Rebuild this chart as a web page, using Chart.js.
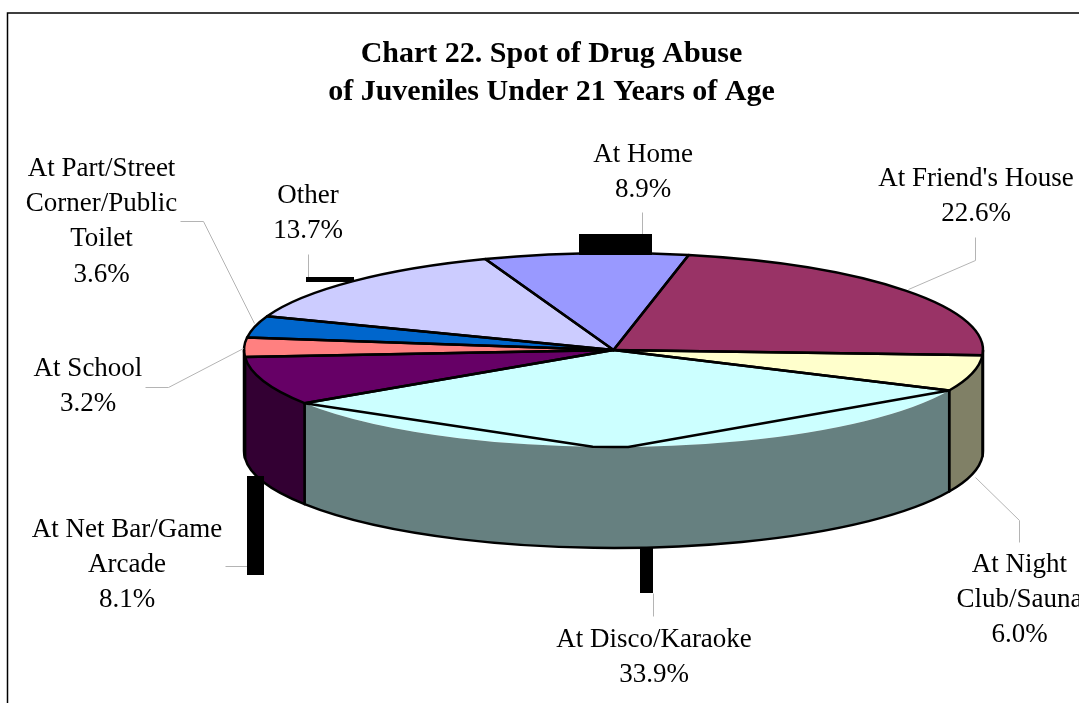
<!DOCTYPE html>
<html>
<head>
<meta charset="utf-8">
<title>Chart 22</title>
<style>
  html, body { margin: 0; padding: 0; background: #fff; overflow: hidden; }
  #wrap { width: 1079px; height: 703px; position: relative; }
</style>
<script src="https://cdn.jsdelivr.net/npm/chart.js@4"></script>
</head>
<body>
<div id="wrap"><canvas id="myChart" width="1079" height="703"></canvas></div>
<script>
const titleLines = ["Chart 22. Spot of Drug Abuse", "of Juveniles Under 21 Years of Age"];
const categories = ["At Home", "At Friend's House", "At Night Club/Sauna", "At Disco/Karaoke",
  "At Net Bar/Game Arcade", "At School", "At Part/Street Corner/Public Toilet", "Other"];
const shares = [8.9, 22.6, 6.0, 33.9, 8.1, 3.2, 3.6, 13.7];
const sliceColors = ["#9999FF", "#993366", "#FFFFCC", "#CCFFFF", "#660066", "#FF8080", "#0066CC", "#CCCCFF"];

// how the labels wrap, and where each block is centred (x, first baseline)
const labelLines = [["At Home"], ["At Friend's House"], ["At Night", "Club/Sauna"], ["At Disco/Karaoke"],
  ["At Net Bar/Game", "Arcade"], ["At School"], ["At Part/Street", "Corner/Public", "Toilet"], ["Other"]];
const labelPos = [[643, 162], [976, 186], [1019.5, 572], [654, 647], [127, 537], [88, 376], [101.5, 176], [308, 203]];
const labelFont = '27px "Liberation Serif"';
const labelLead = 35.2;

// leader lines, one polyline per slice
const leaders = [
  [[642, 212], [642, 234]],
  [[975, 237], [975, 260], [908, 289]],
  [[975, 477], [1019, 520], [1019, 542]],
  [[653, 593], [653, 616]],
  [[225, 566], [247, 566], [247, 476]],
  [[145, 387], [168, 387], [243, 348]],
  [[180, 221], [203, 221], [254, 323]],
  [[308, 254], [308, 277]],
];
// the stray black blocks sitting on the leaders in the original: x, y, w, h
const stubs = [[579, 234, 73, 21], [306, 277, 48, 5], [247, 476, 17, 99], [640, 548, 13, 45]];

// pie projection
const cx = 613.5, cy = 350, rx = 369.5, ry = 97, depth = 101;
const lineW = 2.5;
// the outline of the big front slice cuts across its arc in the original,
// these are the degrees past the slice middle where it touches the arc
const chordAngles = [2, 7.5];

function halfShade(hex) {
  const n = parseInt(hex.slice(1), 16);
  const c = [n >> 16, (n >> 8) & 255, n & 255].map(v => Math.round(v / 2));
  return "rgb(" + c.join(",") + ")";
}

function pt(a, dy) {
  return [cx + rx * Math.cos(a), cy + ry * Math.sin(a) + (dy || 0)];
}

const pie3d = {
  id: "pie3d",
  beforeDraw(chart) {
    const ctx = chart.ctx;
    ctx.save();
    ctx.strokeStyle = "#000";
    ctx.lineWidth = 1.5;
    ctx.beginPath();
    ctx.moveTo(7.5, 704);
    ctx.lineTo(7.5, 13);
    ctx.lineTo(1080, 13);
    ctx.stroke();
    ctx.restore();
  },
  beforeDatasetsDraw(chart) {
    const arc = chart.getDatasetMeta(0).data[0];
    const ctx = chart.ctx;
    ctx.save();
    ctx.translate(cx, cy);
    ctx.scale(rx / arc.outerRadius, ry / arc.outerRadius);
    ctx.translate(-arc.x, -arc.y);
  },
  afterDatasetsDraw(chart) {
    const ctx = chart.ctx;
    ctx.restore();
    const arcs = chart.getDatasetMeta(0).data;

    ctx.save();
    ctx.lineJoin = "round";
    ctx.strokeStyle = "#000";
    ctx.lineWidth = lineW;

    // side wall, front half of the ellipse only
    arcs.forEach((arc, i) => {
      const a0 = Math.max(arc.startAngle, 0), a1 = Math.min(arc.endAngle, Math.PI);
      if (a1 <= a0) return;
      ctx.beginPath();
      ctx.ellipse(cx, cy, rx, ry, 0, a0, a1);
      ctx.ellipse(cx, cy + depth, rx, ry, 0, a1, a0, true);
      ctx.closePath();
      ctx.fillStyle = halfShade(sliceColors[i]);
      ctx.fill();
      // bottom edge and the two verticals, no line along the top
      ctx.beginPath();
      const p0 = pt(a0), p1 = pt(a1);
      ctx.moveTo(p0[0], p0[1]);
      ctx.ellipse(cx, cy + depth, rx, ry, 0, a0, a1);
      ctx.lineTo(p1[0], p1[1]);
      ctx.stroke();
    });

    // slice outlines on the top face
    arcs.forEach((arc, i) => {
      ctx.beginPath();
      ctx.moveTo(cx, cy);
      if (categories[i] === "At Disco/Karaoke") {
        const mid = (arc.startAngle + arc.endAngle) / 2;
        const from = mid + chordAngles[0] * Math.PI / 180, to = mid + chordAngles[1] * Math.PI / 180;
        const s = pt(arc.startAngle), e = pt(arc.endAngle), m0 = pt(from);
        ctx.lineTo(s[0], s[1]);
        ctx.lineTo(m0[0], m0[1]);
        ctx.ellipse(cx, cy, rx, ry, 0, from, to);
        ctx.lineTo(e[0], e[1]);
      } else {
        ctx.ellipse(cx, cy, rx, ry, 0, arc.startAngle, arc.endAngle);
      }
      ctx.closePath();
      ctx.stroke();
    });

    // leaders and blocks
    ctx.lineWidth = 1;
    ctx.strokeStyle = "#b4b4b4";
    leaders.forEach(line => {
      ctx.beginPath();
      line.forEach((p, k) => k ? ctx.lineTo(p[0] + 0.5, p[1] + 0.5) : ctx.moveTo(p[0] + 0.5, p[1] + 0.5));
      ctx.stroke();
    });
    ctx.fillStyle = "#000";
    stubs.forEach(s => ctx.fillRect(s[0], s[1], s[2], s[3]));

    // labels
    ctx.font = labelFont;
    ctx.fillStyle = "#000";
    ctx.textAlign = "center";
    ctx.textBaseline = "alphabetic";
    labelLines.forEach((lines, i) => {
      const [x, y] = labelPos[i];
      lines.concat(shares[i].toFixed(1) + "%").forEach((t, k) => ctx.fillText(t, x, y + k * labelLead));
    });
    ctx.restore();
  },
};

new Chart(document.getElementById("myChart"), {
  type: "pie",
  data: {
    labels: categories,
    datasets: [{
      data: shares,
      backgroundColor: sliceColors,
      borderWidth: 0,
      clip: false,
    }],
  },
  options: {
    responsive: false,
    animation: false,
    rotation: -20.3,
    layout: { padding: { left: 24 } },
    plugins: {
      legend: { display: false },
      tooltip: { enabled: false },
      title: {
        display: true,
        text: titleLines,
        color: "#000",
        font: { family: '"Liberation Serif"', size: 30, weight: "bold", lineHeight: 1.267 },
        padding: { top: 35, bottom: 10 },
      },
    },
  },
  plugins: [pie3d],
});
</script>
</body>
</html>
